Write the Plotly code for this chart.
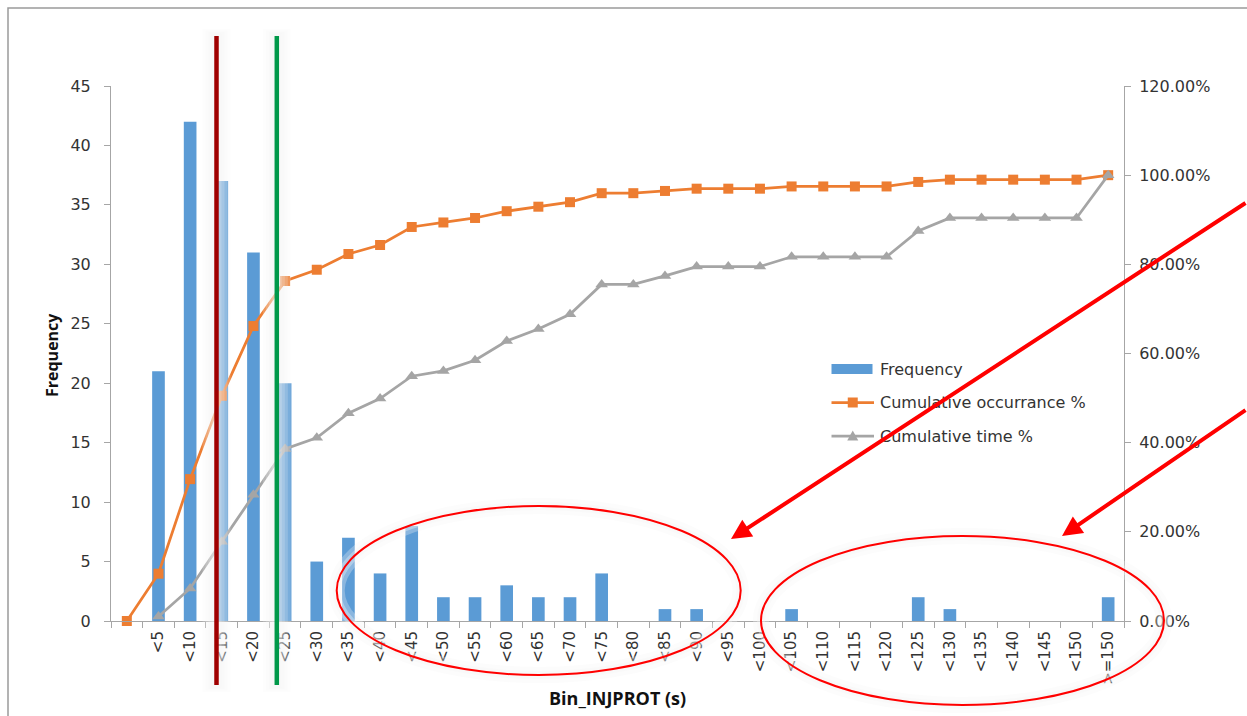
import plotly.graph_objects as go

# ---- data -------------------------------------------------------------
bins = [" ", "<5", "<10", "<15", "<20", "<25", "<30", "<35", "<40", "<45",
        "<50", "<55", "<60", "<65", "<70", "<75", "<80", "<85", "<90", "<95",
        "<100", "<105", "<110", "<115", "<120", "<125", "<130", "<135", "<140",
        "<145", "<150", ">=150"]

frequency = [0, 21, 42, 37, 31, 20, 5, 7, 4, 8,
             2, 2, 3, 2, 2, 4, 0, 1, 1, 0,
             0, 1, 0, 0, 0, 2, 1, 0, 0,
             0, 0, 2]

cum_occurrence = [0.0, 0.1061, 0.3182, 0.5051, 0.6616, 0.7626, 0.7879, 0.8232, 0.8434, 0.8838,
                  0.8939, 0.9040, 0.9192, 0.9293, 0.9394, 0.9596, 0.9596, 0.9646, 0.9697, 0.9697,
                  0.9697, 0.9747, 0.9747, 0.9747, 0.9747, 0.9848, 0.9899, 0.9899, 0.9899,
                  0.9899, 0.9899, 1.0]

cum_time = [None, 0.010, 0.073, 0.178, 0.283, 0.386, 0.411, 0.466, 0.499, 0.549,
            0.561, 0.585, 0.628, 0.655, 0.688, 0.755, 0.755, 0.774, 0.795, 0.795,
            0.795, 0.817, 0.817, 0.817, 0.817, 0.875, 0.904, 0.904, 0.904,
            0.904, 0.904, 1.0]

# ---- colours / fonts --------------------------------------------------
BLUE, ORANGE, GREY = "#5B9BD5", "#ED7D31", "#A5A5A5"
AXIS = "#A6A6A6"
TXT = "#333333"
TICK_FONT = dict(family="DejaVu Sans", size=16, color=TXT)
TITLE_FONT = dict(family="Open Sans", size=15, color="#111111", weight="bold")

W, H = 1247, 716
L, R, T, B = 111, 1124, 86, 621   # plot area in pixels


def px(x):
    """pixel column -> paper x"""
    return (x - L) / (R - L)


def py(y):
    """pixel row -> paper y"""
    return (B - y) / (B - T)


fig = go.Figure()

fig.add_trace(go.Bar(
    x=bins, y=frequency, name="Frequency",
    marker=dict(color=BLUE, line=dict(width=0)),
    yaxis="y", showlegend=False,
))
fig.add_trace(go.Scatter(
    x=bins, y=cum_occurrence, name="Cumulative occurrance %",
    mode="lines+markers", yaxis="y2",
    line=dict(color=ORANGE, width=2.75),
    marker=dict(symbol="square", size=10, color=ORANGE),
    showlegend=False, cliponaxis=False,
))
fig.add_trace(go.Scatter(
    x=bins, y=cum_time, name="Cumulative time %",
    mode="lines+markers", yaxis="y2",
    line=dict(color=GREY, width=2.75),
    marker=dict(symbol="triangle-up", size=11, color=GREY),
    showlegend=False, cliponaxis=False,
))

shapes = []
annotations = []

# outer frame (top and left edges)
shapes.append(dict(
    type="path", xref="paper", yref="paper", layer="above",
    path=f"M{px(8)},{py(730)} L{px(8)},{py(8)} L{px(1260)},{py(8)}",
    line=dict(color="#9A9A9A", width=1.5),
))

# vertical marker lines with a soft glow
for xline, col in [(216.5, "#A00000"), (276.8, "#01994A")]:
    for d in (12, 9, 6, 3):
        shapes.append(dict(
            type="rect", xref="paper", yref="paper", layer="above",
            x0=px(xline - 2 - d), x1=px(xline + 2 + d),
            y0=py(686 + d / 2), y1=py(35 - d / 2),
            fillcolor="#F4F4F4", opacity=0.2, line=dict(width=0),
        ))
    shapes.append(dict(
        type="line", xref="paper", yref="paper", layer="above",
        x0=px(xline), x1=px(xline), y0=py(685), y1=py(36),
        line=dict(color=col, width=4.5),
    ))

# highlight ellipses
for (x0, x1, y0, y1) in [(336.7, 740.7, 506, 675), (761, 1164, 536, 705)]:
    for wdt, op in ((16, 0.3), (8, 0.35)):
        shapes.append(dict(
            type="circle", xref="paper", yref="paper", layer="above",
            x0=px(x0), x1=px(x1), y0=py(y1), y1=py(y0),
            line=dict(color="#F6F6F6", width=wdt), opacity=op,
        ))
    shapes.append(dict(
        type="circle", xref="paper", yref="paper", layer="above",
        x0=px(x0), x1=px(x1), y0=py(y1), y1=py(y0),
        line=dict(color="#FF0000", width=2),
    ))

# hand-made legend
LEG_X0, LEG_X1, LEG_TX = 831.5, 874, 878
rows = [369, 402.5, 436]
shapes.append(dict(type="rect", xref="paper", yref="paper", layer="above",
                   x0=px(LEG_X0), x1=px(872.5), y0=py(rows[0] + 5), y1=py(rows[0] - 5),
                   fillcolor=BLUE, line=dict(width=0)))
for yy, col in [(rows[1], ORANGE), (rows[2], GREY)]:
    shapes.append(dict(type="line", xref="paper", yref="paper", layer="above",
                       x0=px(LEG_X0), x1=px(LEG_X1), y0=py(yy), y1=py(yy),
                       line=dict(color=col, width=2.75)))
cx = (LEG_X0 + LEG_X1) / 2
shapes.append(dict(type="rect", xref="paper", yref="paper", layer="above",
                   x0=px(cx - 5), x1=px(cx + 5), y0=py(rows[1] + 5), y1=py(rows[1] - 5),
                   fillcolor=ORANGE, line=dict(width=0)))
shapes.append(dict(type="path", xref="paper", yref="paper", layer="above",
                   path=(f"M{px(cx)},{py(rows[2] - 5.5)} L{px(cx - 5.5)},{py(rows[2] + 4.5)} "
                         f"L{px(cx + 5.5)},{py(rows[2] + 4.5)} Z"),
                   fillcolor=GREY, line=dict(width=0)))
for yy, label in zip(rows, ["Frequency", "Cumulative occurrance %", "Cumulative time %"]):
    annotations.append(dict(
        xref="paper", yref="paper", x=px(LEG_TX), y=py(yy),
        xanchor="left", yanchor="middle", text=label, showarrow=False,
        font=TICK_FONT,
    ))

# axis titles
annotations.append(dict(
    xref="paper", yref="paper", x=px(52), y=py(355), text="Frequency",
    textangle=-90, showarrow=False, xanchor="center", yanchor="middle",
    font=dict(TITLE_FONT, size=16),
))
annotations.append(dict(
    xref="paper", yref="paper", x=px(617), y=py(698), text="Bin_INJPROT (s)",
    showarrow=False, xanchor="center", yanchor="middle", font=dict(TITLE_FONT, size=18),
))

# call-out arrows pointing at the ellipses
for (tx, ty, ax, ay) in [(731, 539, 569, -337), (1062, 536, 238, -127)]:
    annotations.append(dict(
        xref="paper", yref="paper", x=px(tx), y=py(ty), ax=ax, ay=ay,
        axref="pixel", ayref="pixel", text="", showarrow=True,
        arrowhead=2, arrowsize=1.0, arrowwidth=4, arrowcolor="#FF0000",
        standoff=0,
    ))

fig.update_layout(
    width=W, height=H,
    margin=dict(l=L, r=W - R, t=T, b=H - B, pad=0),
    paper_bgcolor="white", plot_bgcolor="white",
    bargap=0.6,
    showlegend=False,
    shapes=shapes, annotations=annotations,
    xaxis=dict(
        type="category", range=[-0.5, len(bins) - 0.5],
        tickangle=-90, tickfont=dict(TICK_FONT, size=15),
        ticks="outside", tickson="boundaries", ticklen=6, tickcolor=AXIS,
        showline=True, linecolor=AXIS, linewidth=1, showgrid=False,
        ticklabelstandoff=3,
    ),
    yaxis=dict(
        range=[0, 45], dtick=5, tickfont=TICK_FONT,
        ticks="outside", ticklen=6, tickcolor=AXIS,
        showline=True, linecolor=AXIS, linewidth=1,
        showgrid=False, zeroline=False, ticklabelstandoff=10,
    ),
    yaxis2=dict(
        range=[0, 1.2], dtick=0.2, tickformat=".2%", tickfont=TICK_FONT,
        overlaying="y", side="right",
        ticks="outside", ticklen=6, tickcolor=AXIS,
        showline=True, linecolor=AXIS, linewidth=1,
        showgrid=False, zeroline=False, ticklabelstandoff=5,
    ),
)

fig.write_html("out.html")
